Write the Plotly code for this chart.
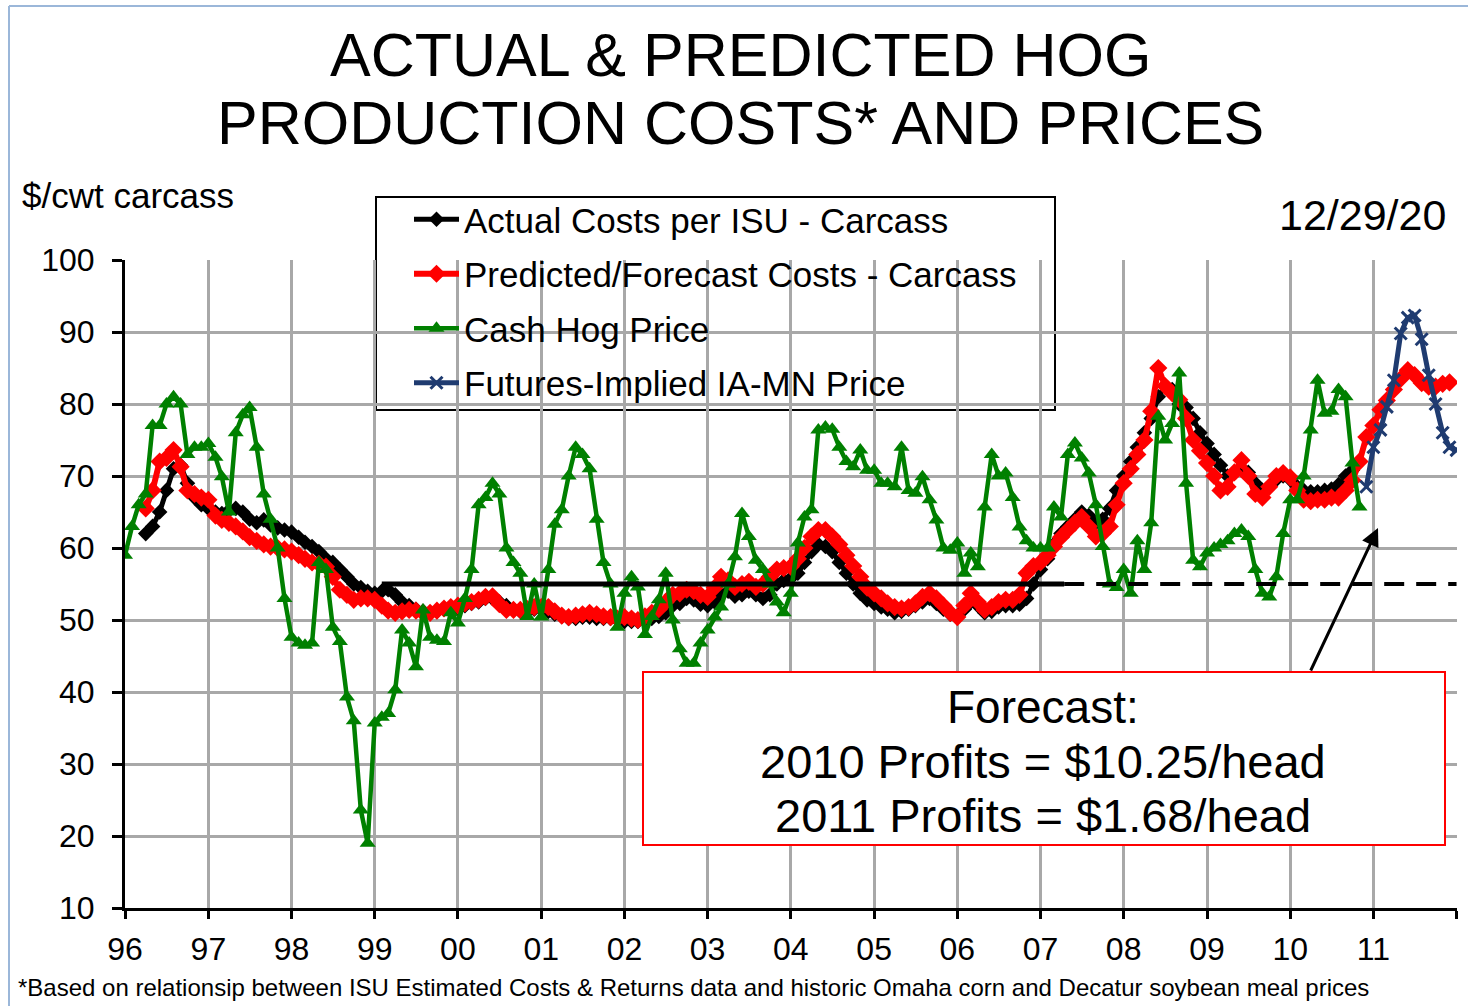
import pandas as pd
import plotly.graph_objects as go

# ---------------- data ----------------
green_start = "1996-01-01"
cash_hog = [
    # 1996
    59, 63, 66, 67.5, 77, 77, 80, 81, 80, 73, 74, 74,
    # 1997
    74.5, 72.6, 69.9, 65, 76, 78.5, 79.5, 74, 67.5, 64, 60, 53,
    # 1998
    47.6, 46.8, 46.5, 46.8, 58, 57, 49, 47, 39.3, 36, 23.6, 19,
    # 1999
    35.7, 36.5, 37, 40.3, 48.6, 46.8, 43.5, 51.4, 47.6, 47.2, 47, 51,
    # 2000
    49.6, 53, 57, 66, 67, 69, 67.5, 60, 58, 56.5, 50.5, 55,
    # 2001
    50.4, 57, 63.3, 65.3, 70, 74, 73, 71, 64, 58, 55, 49,
    # 2002
    53.7, 56, 54.6, 48, 50.5, 52.8, 56.5, 50, 46, 44, 44, 46.8,
    # 2003
    48.6, 50.4, 51.8, 55, 58.8, 64.8, 61.6, 58.3, 57, 55, 52.5, 51,
    # 2004
    53.7, 60.7, 64.3, 65.3, 76.4, 76.8, 76.5, 74, 72, 71.3, 73.6, 70.8,
    # 2005
    70.8, 69, 69, 68.5, 74, 68, 67.6, 69.9, 66.7, 63.9, 60, 59.7,
    # 2006
    60.7, 56.5, 59.3, 57.4, 65.7, 73, 70, 70.4, 67, 62.9, 61, 60,
    # 2007
    60, 60, 65.7, 64.3, 73, 74.6, 72.5, 70.4, 66, 60.2, 55, 54.5,
    # 2008
    57, 53.7, 61, 57, 63.5, 78.3, 75, 77.3, 84.3, 69, 58.3, 57.4,
    # 2009
    59.3, 60, 60.5, 61, 62, 62.5, 61.6, 57, 53.7, 53.2, 56, 62,
    # 2010
    66.7, 66.7, 70, 76.4, 83.3, 78.7, 79, 82, 81, 71.8, 65.7,
]

red_start = "1996-04-01"
forecast_cost = [
    # 1996 Apr-Dec
    65.5, 68, 72, 72.5, 73.6, 71.3, 68, 67.5, 67,
    # 1997
    66.7, 64.5, 63.9, 63.5, 63, 62.3, 61.5, 61, 60.5, 60.2, 60, 59.8,
    # 1998
    59.5, 59, 58.5, 58, 57.8, 57.4, 56, 54.2, 53.5, 52.8, 53, 53,
    # 1999
    52.8, 52, 51.3, 51, 51.2, 51.4, 51.3, 51, 51, 51.3, 51.6, 51.8,
    # 2000
    52, 52.3, 52.5, 52.8, 53.2, 53.3, 52.2, 51.4, 51.4, 51.4, 51.5, 51.8,
    # 2001
    51.8, 51.8, 51.2, 50.6, 50.4, 50.6, 50.8, 51, 50.8, 50.5, 50.4, 50.2,
    # 2002
    50.4, 50.2, 50, 50.5, 51, 51.5, 52.5, 53.5, 53.7, 54.2, 54, 53.5,
    # 2003
    53.2, 54.5, 56, 55.5, 54.6, 55, 55.3, 54.6, 55, 56, 57, 57.2,
    # 2004
    57.4, 58.5, 60, 61.6, 62.5, 62.5, 61.6, 60.5, 59, 57.5, 56, 54.5,
    # 2005
    53.7, 53, 52.3, 51.8, 51.6, 51.8, 52.3, 53.2, 53.7, 53, 52, 51,
    # 2006
    50.4, 52, 53.7, 52.5, 51.4, 51.8, 52.5, 52.8, 52.8, 53.5, 56.5, 57.5,
    # 2007
    58, 59, 60.2, 61.5, 62.5, 63.5, 64.3, 63, 61.6, 62, 63, 66,
    # 2008
    69, 71, 73, 75, 79, 85, 82.5, 81.5, 80.6, 78, 75, 73.5,
    # 2009
    71.8, 70, 68, 68.5, 70.5, 72.2, 70, 67.5, 67, 68.5, 70, 70.4,
    # 2010
    69.8, 68, 66.7, 66.5, 66.7, 66.7, 67, 67, 68, 69.4, 72, 75.4,
    # 2011
    77, 79.2, 80.5, 82, 83.5, 84.7, 84, 82.9, 82.4, 82.4, 82.8, 83,
]

black_start = "1996-04-01"
actual_cost = [
    # 1996 Apr-Dec
    62, 63, 65, 68, 71, 71.5, 69, 67, 66,
    # 1997
    65.5, 65, 64.8, 65.2, 65.5, 65, 64, 63.5, 63.9, 63.2, 62.8, 62.5,
    # 1998
    62.2, 61.5, 60.8, 60.2, 59.5, 58.5, 58, 57, 56, 55, 54.5, 54,
    # 1999
    53.7, 54, 54.2, 53.5, 52.5, 52, 51.5, 51.2, 51, 51.2, 51.5, 51.5,
    # 2000
    51.5, 52, 52.3, 52.5, 53, 53, 52.5, 52, 51.5, 51.2, 51.2, 51.5,
    # 2001
    51.5, 51.2, 50.8, 50.5, 50.2, 50.2, 50.4, 50.4, 50.2, 50.2, 50.2, 50,
    # 2002
    49.8, 49.8, 49.8, 50, 50.2, 50.5, 51, 52, 52.3, 53, 52.8, 52.2,
    # 2003
    52, 52.5, 53.5, 54, 53.3, 53.5, 54, 53.5, 53, 53.5, 55, 55.5,
    # 2004
    55.8, 56.5, 58, 59.5, 60.5, 60.2, 59.5, 58, 56.5, 55, 53.7, 52.8,
    # 2005
    52.3, 51.8, 51.5, 51, 51.2, 51.5, 52, 52.5, 53, 52.3, 51.5, 50.8,
    # 2006
    50.5, 51.5, 52.5, 52, 51, 51.2, 51.8, 52, 52, 52.2, 53, 55,
    # 2007
    57, 58.5, 60.5, 62, 63, 64, 65, 64.5, 63.5, 64, 65.5, 68,
    # 2008
    70, 72, 74, 76, 78, 81, 82.5, 82, 80, 79.5, 78, 76,
    # 2009
    74.5, 73, 71.5, 70, 70.5, 71, 70.5, 69, 68, 68.5, 69.5, 70,
    # 2010
    69.5, 68.5, 68, 67.8, 67.8, 68, 68.2, 68.8, 70, 70.8,
]

blue_start = "2010-12-01"
futures_price = [68.5, 74, 76.4, 79.6, 83.3, 89.8, 92, 92.3, 89, 84, 80, 76, 74, 73.6]

breakeven_level = 55
breakeven_solid = ["1999-02-01", "2007-04-15"]
breakeven_dash = ["2007-04-15", "2012-01-01"]

year_ticks = [f"{y}-01-01" for y in range(1996, 2013)]
year_labels = ["96", "97", "98", "99", "00", "01", "02", "03", "04",
               "05", "06", "07", "08", "09", "10", "11", ""]
y_ticks = [10, 20, 30, 40, 50, 60, 70, 80, 90, 100]

FONT = "Liberation Sans, Arial, sans-serif"


def monthly(start, values):
    return pd.date_range(start, periods=len(values), freq="MS")


fig = go.Figure()

fig.add_trace(go.Scatter(
    x=monthly(black_start, actual_cost), y=actual_cost,
    mode="lines+markers", name="Actual Costs per ISU - Carcass",
    line=dict(color="black", width=5),
    marker=dict(symbol="diamond", size=12, color="black"),
    legendgroup="a"))

fig.add_trace(go.Scatter(
    x=monthly(red_start, forecast_cost), y=forecast_cost,
    mode="lines+markers", name="Predicted/Forecast Costs - Carcass",
    line=dict(color="#ff0000", width=6),
    marker=dict(symbol="diamond", size=14, color="#ff0000"),
    legendgroup="b"))

fig.add_trace(go.Scatter(
    x=monthly(green_start, cash_hog), y=cash_hog,
    mode="lines+markers", name="Cash Hog Price",
    line=dict(color="#008000", width=4.5),
    marker=dict(symbol="triangle-up", size=14, color="#008000"),
    legendgroup="c"))

fig.add_trace(go.Scatter(
    x=monthly(blue_start, futures_price), y=futures_price,
    mode="lines+markers", name="Futures-Implied IA-MN Price",
    line=dict(color="#1f3b70", width=5),
    marker=dict(symbol="x-thin", size=12, color="#1f3b70",
                line=dict(width=3, color="#1f3b70")),
    legendgroup="d"))

fig.add_trace(go.Scatter(
    x=breakeven_solid, y=[breakeven_level] * 2, mode="lines",
    line=dict(color="black", width=5), showlegend=False, hoverinfo="skip"))
fig.add_trace(go.Scatter(
    x=breakeven_dash, y=[breakeven_level] * 2, mode="lines",
    line=dict(color="black", width=4, dash="20px,12px"),
    showlegend=False, hoverinfo="skip"))

L, R, T, B = 125, 11, 260, 98
W, H = 1468, 1006
PW, PH = W - L - R, H - T - B


def px(xpix):
    return (xpix - L) / PW


def py(ypix):
    return (H - B - ypix) / PH


shapes = [
    # legend box
    dict(type="rect", xref="paper", yref="paper",
         x0=px(376), x1=px(1055), y0=py(410), y1=py(197),
         line=dict(color="black", width=2), fillcolor="white", layer="between"),
    # forecast box
    dict(type="rect", xref="paper", yref="paper",
         x0=px(643), x1=px(1445), y0=py(845), y1=py(672),
         line=dict(color="#ff0000", width=2), fillcolor="white", layer="above"),
    # slide frame
    dict(type="line", xref="paper", yref="paper",
         x0=px(9), x1=px(9), y0=py(1006), y1=py(6),
         line=dict(color="#9bb7d9", width=2)),
    dict(type="line", xref="paper", yref="paper",
         x0=px(9), x1=px(1468), y0=py(6), y1=py(6),
         line=dict(color="#9bb7d9", width=2)),
]

annotations = [
    dict(text="ACTUAL &amp; PREDICTED HOG", xref="paper", yref="paper",
         x=px(740), y=py(55), showarrow=False,
         font=dict(size=61, color="black", family=FONT),
         xanchor="center", yanchor="middle"),
    dict(text="PRODUCTION COSTS* AND PRICES", xref="paper", yref="paper",
         x=px(740), y=py(123), showarrow=False,
         font=dict(size=61, color="black", family=FONT),
         xanchor="center", yanchor="middle"),
    dict(text="$/cwt carcass", xref="paper", yref="paper",
         x=px(20), y=py(195), showarrow=False,
         font=dict(size=35, color="black", family=FONT),
         xanchor="left", yanchor="middle"),
    dict(text="12/29/20", xref="paper", yref="paper",
         x=px(1448), y=py(215), showarrow=False,
         font=dict(size=43, color="black", family=FONT),
         xanchor="right", yanchor="middle"),
    dict(text="*Based on relationsip between ISU Estimated Costs &amp; Returns data "
              "and historic Omaha corn and Decatur soybean meal prices",
         xref="paper", yref="paper", x=px(16), y=py(987), showarrow=False,
         font=dict(size=24, color="black", family=FONT),
         xanchor="left", yanchor="middle"),
    dict(text="Forecast:", xref="paper", yref="paper",
         x=px(1043), y=py(707), showarrow=False,
         font=dict(size=46, color="black", family=FONT),
         xanchor="center", yanchor="middle"),
    dict(text="2010 Profits = $10.25/head", xref="paper", yref="paper",
         x=px(1043), y=py(761), showarrow=False,
         font=dict(size=47, color="black", family=FONT),
         xanchor="center", yanchor="middle"),
    dict(text="2011 Profits = $1.68/head", xref="paper", yref="paper",
         x=px(1043), y=py(815), showarrow=False,
         font=dict(size=47, color="black", family=FONT),
         xanchor="center", yanchor="middle"),
    # arrow
    dict(text="", xref="paper", yref="paper", x=px(1378), y=py(528),
         ax=1310 - 1378, ay=672 - 528,
         showarrow=True, arrowhead=2, arrowsize=1.2, arrowwidth=3,
         arrowcolor="black"),
]

fig.update_layout(
    width=W, height=H,
    margin=dict(l=L, r=R, t=T, b=B, pad=0),
    paper_bgcolor="white", plot_bgcolor="white",
    font=dict(family=FONT, color="black"),
    showlegend=True,
    legend=dict(x=px(409), y=py(190), xanchor="left", yanchor="top",
                bgcolor="rgba(0,0,0,0)", borderwidth=0,
                font=dict(size=35, color="black", family=FONT),
                itemwidth=45,
                traceorder="grouped", tracegroupgap=6),
    shapes=shapes, annotations=annotations,
    xaxis=dict(type="date", range=["1996-01-01", "2012-01-03"],
               tickvals=year_ticks, ticktext=year_labels,
               showgrid=True, gridcolor="#a8a8a8", gridwidth=2.5,
               showline=True, linecolor="black", linewidth=3,
               ticks="outside", ticklen=8, tickwidth=3, tickcolor="black",
               tickfont=dict(size=32, color="black", family=FONT),
               ticklabelstandoff=3, zeroline=False),
    yaxis=dict(range=[10, 100], tickvals=y_ticks,
               showgrid=True, gridcolor="#a8a8a8", gridwidth=2.5,
               showline=True, linecolor="black", linewidth=3,
               ticks="outside", ticklen=10, tickwidth=3, tickcolor="black",
               tickfont=dict(size=32, color="black", family=FONT),
               ticklabelstandoff=11, zeroline=False),
)

fig.write_html("out.html",
               config={"displayModeBar": False},
               post_script="document.body.style.margin='0';")
